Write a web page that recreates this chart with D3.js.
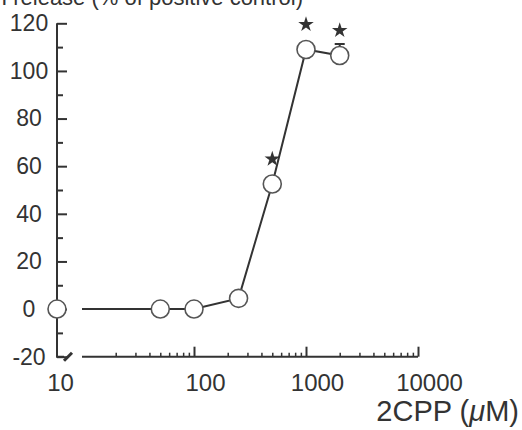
<!DOCTYPE html>
<html>
<head>
<meta charset="utf-8">
<script src="https://cdn.jsdelivr.net/npm/d3@7"></script>
<style>
  body { margin: 0; background: #fff; }
  text { font-family: "Liberation Sans", Arial, Helvetica, sans-serif; fill: #333; }
</style>
</head>
<body>
<div id="chart"></div>
<script>
// data
var doses = [50, 100, 250, 500, 1000, 2000];          // 2CPP (uM)
var release = [0, 0, 4.5, 52.5, 109, 106.5];           // % of positive control
var errUp = [0, 0, 0, 0, 0, 111.3];                     // upper error cap (0 = none)
var controlValue = 0;                                    // no-drug control, drawn on the y axis
var sigDoses = [500, 1000, 2000];                        // marked with a star
var xMajor = [10, 100, 1000, 10000];
var yMajor = [-20, 0, 20, 40, 60, 80, 100, 120];
var yMinor = [-10, 10, 30, 50, 70, 90, 110];

var W = 522, H = 430;
var ink = '#333';

var svg = d3.select('#chart').append('svg')
    .attr('width', W)
    .attr('height', H);

const xScale = d3.scaleLog().domain([10, 10000]).range([82, 418]);
const yScale = d3.scaleLinear().domain([-20, 120]).range([356.7, 23.3]);
const axisX = 57;   // where the y axis stands
const plain = d => String(d);   // keeps the ascii hyphen in "-20"

// minor x ticks 20..90, 200..900, 2000..9000
var xMinor = [];
[10, 100, 1000].forEach(function(dec) {
  for (var k = 2; k <= 9; k++) xMinor.push(dec * k);
});

// ---- y axis
const yAxisG = svg.append('g')
    .attr('transform', 'translate(' + axisX + ',0)');
yAxisG.call(d3.axisLeft(yScale).tickValues(yMajor).tickSize(-10).tickSizeOuter(0)
    .tickFormat(plain));
yAxisG.select('.domain').remove();
yAxisG.selectAll('.tick line').attr('stroke', ink).attr('stroke-width', 2);
yAxisG.selectAll('.tick text')
    .attr('x', -28)
    .attr('text-anchor', 'middle')
    .attr('font-size', 23);
yAxisG.attr('font-family', null);

const yMinorG = svg.append('g')
    .attr('transform', 'translate(' + axisX + ',0)');
yMinorG.call(d3.axisLeft(yScale).tickValues(yMinor).tickSize(-6).tickSizeOuter(0).tickFormat(''));
yMinorG.select('.domain').remove();
yMinorG.selectAll('.tick line').attr('stroke', ink).attr('stroke-width', 2);

// y axis line with foot and the break mark
svg.append('path')
    .attr('d', 'M' + axisX + ',' + yScale(120) + 'V' + yScale(-20) + 'H64')
    .attr('fill', 'none')
    .attr('stroke', ink)
    .attr('stroke-width', 2);
svg.append('line')
    .attr('x1', 64).attr('y1', yScale(-20) + 4)
    .attr('x2', 72).attr('y2', yScale(-20) - 4)
    .attr('stroke', ink)
    .attr('stroke-width', 3);

// ---- x axis
const xAxisG = svg.append('g')
    .attr('transform', 'translate(0,' + yScale(-20) + ')');
xAxisG.call(d3.axisBottom(xScale).tickValues(xMajor).tickSize(-10).tickSizeOuter(0)
    .tickPadding(17).tickFormat(plain));
xAxisG.attr('font-family', null);
xAxisG.select('.domain')
    .attr('d', 'M' + xScale(10) + ',0H' + xScale(10000))
    .attr('stroke', ink)
    .attr('stroke-width', 2);
xAxisG.selectAll('.tick line').attr('stroke', ink).attr('stroke-width', 2);
xAxisG.selectAll('.tick text')
    .attr('font-size', 24)
    .attr('dx', 11);
// the "10" label sits under the y axis, no tick there
xAxisG.selectAll('.tick').filter(d => d === 10).each(function() {
  d3.select(this).select('line').remove();
  d3.select(this).select('text').attr('dx', axisX + 3 - xScale(10));
});

const xMinorG = svg.append('g')
    .attr('transform', 'translate(0,' + yScale(-20) + ')');
xMinorG.call(d3.axisBottom(xScale).tickValues(xMinor).tickSize(-4).tickSizeOuter(0).tickFormat(''));
xMinorG.select('.domain').remove();
xMinorG.selectAll('.tick line').attr('stroke', ink).attr('stroke-width', 1.5);

// axis titles (the y title is cut by the top edge, as in the figure)
svg.append('text')
    .attr('x', 303)
    .attr('y', 5)
    .attr('text-anchor', 'end')
    .attr('font-size', 22)
    .text('LDH release (% of positive control)');

var xt = svg.append('text')
    .attr('x', 519)
    .attr('y', 421)
    .attr('text-anchor', 'end')
    .attr('font-size', 29);
xt.append('tspan').text('2CPP (');
xt.append('tspan').attr('font-style', 'italic').text('\u03bc');
xt.append('tspan').text('M)');

// ---- data
var pts = doses.map(function(d, i) { return { x: d, y: release[i], e: errUp[i] }; });

const line = d3.line()
    .x(d => xScale(d.x))
    .y(d => yScale(d.y));

svg.append('path')
    .datum([{ x: 10, y: controlValue }].concat(pts))
    .attr('d', line)
    .attr('fill', 'none')
    .attr('stroke', ink)
    .attr('stroke-width', 2);

// error caps
svg.selectAll('.err')
    .data(pts.filter(d => d.e > 0))
    .enter().append('path')
    .attr('class', 'err')
    .attr('d', d => 'M' + xScale(d.x) + ',' + yScale(d.y) + 'V' + yScale(d.e) +
        'M' + (xScale(d.x) - 5) + ',' + yScale(d.e) + 'h10')
    .attr('fill', 'none')
    .attr('stroke', ink)
    .attr('stroke-width', 2);

var circleG = svg.append('g').attr('class', 'data-points');
circleG.append('circle')
    .attr('cx', axisX)
    .attr('cy', yScale(controlValue))
    .attr('r', 9)
    .attr('fill', '#fff')
    .attr('stroke', '#555')
    .attr('stroke-width', 1.6);
circleG.selectAll('circle.pt')
    .data(pts)
    .enter().append('circle')
    .attr('class', 'pt')
    .attr('cx', d => xScale(d.x))
    .attr('cy', d => yScale(d.y))
    .attr('r', 9)
    .attr('fill', '#fff')
    .attr('stroke', '#555')
    .attr('stroke-width', 1.6);

// significance stars
svg.selectAll('.star')
    .data(pts.filter(d => sigDoses.indexOf(d.x) >= 0))
    .enter().append('path')
    .attr('class', 'star')
    .attr('d', d3.symbol().type(d3.symbolStar).size(75))
    .attr('transform', d => 'translate(' + xScale(d.x) + ',' + (yScale(d.y) - 25) + ')')
    .attr('fill', ink);
</script>
</body>
</html>
